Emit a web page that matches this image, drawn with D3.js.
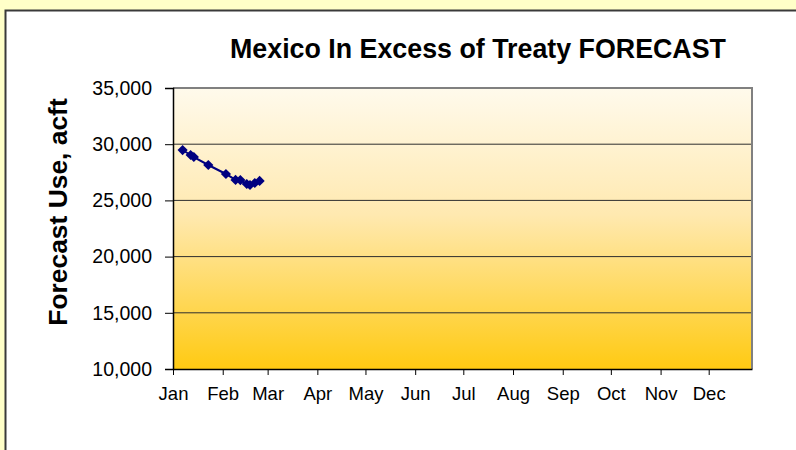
<!DOCTYPE html>
<html>
<head>
<meta charset="utf-8">
<script src="https://cdn.jsdelivr.net/npm/d3@7"></script>
<style>
    html, body { margin: 0; padding: 0; background: #ffffc8; }
    svg { display: block; font-family: "Liberation Sans", Arial, sans-serif; }
</style>
</head>
<body>
<div id="chartContainer"></div>
<script>
// forecast dates and values (acft)
const forecastDates = ['2006-01-07', '2006-01-12', '2006-01-14', '2006-01-23', '2006-02-03',
    '2006-02-09', '2006-02-12', '2006-02-16', '2006-02-18', '2006-02-21', '2006-02-24'];
const forecastUse = [29480, 29040, 28860, 28150, 27350, 26820, 26810, 26460, 26370, 26550, 26730];
const yTicks = [10000, 15000, 20000, 25000, 30000, 35000];
const monthTicks = ['2006-01-01', '2006-02-01', '2006-03-01', '2006-04-01', '2006-05-01', '2006-06-01',
    '2006-07-01', '2006-08-01', '2006-09-01', '2006-10-01', '2006-11-01', '2006-12-01'];

const parseDate = d3.timeParse('%Y-%m-%d');
const points = forecastDates.map((d, i) => ({ date: parseDate(d), value: forecastUse[i] }));

const width = 796, height = 450;
const margin = { top: 88, right: 44, bottom: 81, left: 173 };
const innerW = width - margin.left - margin.right;
const innerH = height - margin.top - margin.bottom;

const svg = d3.select('#chartContainer')
    .append('svg')
    .attr('width', width)
    .attr('height', height);

// white chart frame
svg.append('rect')
    .attr('x', 5.5).attr('y', 10.5)
    .attr('width', 820).attr('height', 460)
    .attr('fill', '#fff')
    .attr('stroke', '#3a3a3a')
    .attr('stroke-width', 2);

const grad = svg.append('defs').append('linearGradient')
    .attr('id', 'bg').attr('x1', 0).attr('y1', 0).attr('x2', 0).attr('y2', 1);
grad.append('stop').attr('offset', '0%').attr('stop-color', '#fffaec');
grad.append('stop').attr('offset', '45%').attr('stop-color', '#ffe9b0');
grad.append('stop').attr('offset', '100%').attr('stop-color', '#ffca12');

const g = svg.append('g').attr('transform', `translate(${margin.left},${margin.top})`);

const x = d3.scaleTime()
    .domain([parseDate('2006-01-01'), parseDate('2006-12-28')])
    .range([0, innerW]);

const y = d3.scaleLinear()
    .domain([10000, 35000])
    .range([innerH, 0]);

g.append('rect')
    .attr('width', innerW).attr('height', innerH)
    .attr('fill', 'url(#bg)');

// gridlines
g.selectAll('.grid')
    .data(yTicks.slice(1, -1))
    .enter().append('line')
    .attr('x1', 0).attr('x2', innerW)
    .attr('y1', d => y(d)).attr('y2', d => y(d))
    .attr('stroke', '#2e2e2e').attr('stroke-width', 1);

// plot border
g.append('path')
    .attr('d', `M0,0H${innerW}V${innerH}`)
    .attr('fill', 'none')
    .attr('stroke', '#808080')
    .attr('stroke-width', 2);

const yAxis = g.append('g')
    .call(d3.axisLeft(y).tickValues(yTicks).tickSize(8).tickPadding(13).tickFormat(d3.format(',d')));
yAxis.select('.domain').attr('stroke', '#000').attr('stroke-width', 1.5);
yAxis.selectAll('.tick line').attr('stroke', '#000');
yAxis.selectAll('text').attr('font-size', '19.5px').attr('fill', '#000');

const xAxis = g.append('g')
    .attr('transform', `translate(0,${innerH})`)
    .call(d3.axisBottom(x).tickValues(monthTicks.map(parseDate)).tickSize(6).tickSizeOuter(0)
        .tickPadding(12).tickFormat(d3.timeFormat('%b')));
xAxis.select('.domain').attr('stroke', '#000').attr('stroke-width', 1.5);
xAxis.selectAll('.tick line').attr('stroke', '#000');
xAxis.selectAll('text').attr('font-size', '18.5px').attr('fill', '#000');

// series
const line = d3.line().x(d => x(d.date)).y(d => y(d.value));
g.append('path')
    .datum(points)
    .attr('d', line)
    .attr('fill', 'none')
    .attr('stroke', '#000080')
    .attr('stroke-width', 2);

g.selectAll('.pt')
    .data(points)
    .enter().append('path')
    .attr('class', 'pt')
    .attr('transform', d => `translate(${x(d.date)},${y(d.value)}) rotate(45)`)
    .attr('d', 'M-3.6,-3.6H3.6V3.6H-3.6Z')
    .attr('fill', '#000080');

// titles
svg.append('text')
    .attr('x', 478).attr('y', 58)
    .attr('text-anchor', 'middle')
    .attr('font-size', '26.8px')
    .attr('font-weight', 'bold')
    .text('Mexico In Excess of Treaty FORECAST');

svg.append('text')
    .attr('transform', 'translate(67,212) rotate(-90)')
    .attr('text-anchor', 'middle')
    .attr('font-size', '26.4px')
    .attr('font-weight', 'bold')
    .text('Forecast Use, acft');
</script>
</body>
</html>
